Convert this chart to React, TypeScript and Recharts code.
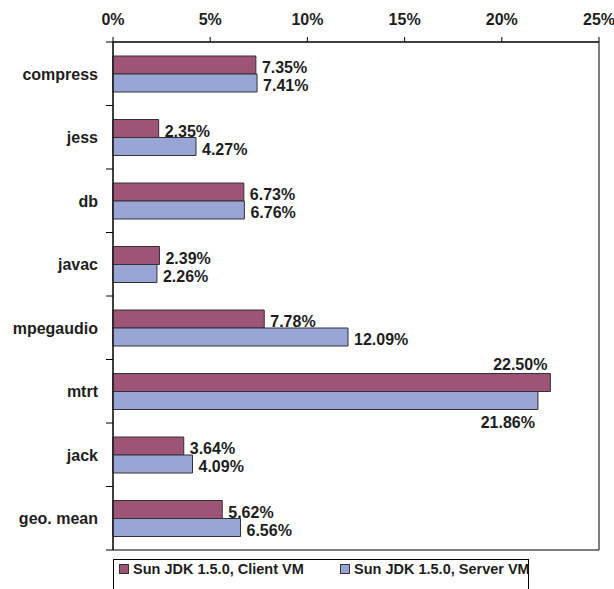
import React from "react";
import {
  Bar,
  BarChart,
  LabelList,
  ReferenceArea,
  XAxis,
  YAxis,
} from "recharts";

const benchmarks = ["compress", "jess", "db", "javac", "mpegaudio", "mtrt", "jack", "geo. mean"];
const clientVm = [7.35, 2.35, 6.73, 2.39, 7.78, 22.5, 3.64, 5.62];
const serverVm = [7.41, 4.27, 6.76, 2.26, 12.09, 21.86, 4.09, 6.56];
const percentTicks = [0, 5, 10, 15, 20, 25];
const seriesNames = ["Sun JDK 1.5.0, Client VM", "Sun JDK 1.5.0, Server VM"];

const CLIENT = "#9e5477";
const SERVER = "#99a5d4";
const EDGE = "#333";
const INK = "#1e1e1e";
const FONT = "'Liberation Sans', Arial, sans-serif";
const LABEL_GAP = 15;

const rows = benchmarks.map((name, i) => ({ name, client: clientVm[i], server: serverVm[i] }));

// labels sit right of the bar; the long mtrt bars get theirs above / below instead
const makeLabel = (above: boolean) => (props: any) => {
  const { x, y, width, height, value } = props;
  const end = x + width;
  const text = `${Number(value).toFixed(2)}%`;
  const common = { fontFamily: FONT, fontSize: 16, fontWeight: 700, fill: INK };
  if (value > 20) {
    return (
      <text {...common} x={end - 3} y={above ? y - 4 : y + height + 18} textAnchor="end">
        {text}
      </text>
    );
  }
  return (
    <text {...common} x={end + 6} y={y + height / 2 + 8} textAnchor="start">
      {text}
    </text>
  );
};

// category tick: label plus Excel-style tick marks on the band boundaries
const CategoryTick = (props: any) => {
  const { x, y, payload, index, visibleTicksCount } = props;
  const axisX = Number(x) + LABEL_GAP;
  const half = Number(payload?.offset) || 31.75;
  const cy = Number(y);
  return (
    <g>
      <path d={`M${axisX - 7},${cy - half}H${axisX}`} stroke="#000" strokeWidth={1} fill="none" />
      {index === visibleTicksCount - 1 && (
        <path d={`M${axisX - 7},${cy + half}H${axisX}`} stroke="#000" strokeWidth={1} fill="none" />
      )}
      <text x={x} y={cy} dy={6} textAnchor="end" fontFamily={FONT} fontSize={16} fontWeight={700} fill={INK}>
        {payload.value}
      </text>
    </g>
  );
};

export default function App() {
  return (
    <div style={{ position: "relative", width: 614, height: 589, overflow: "hidden", background: "#fff" }}>
      <style>{`body { margin: 0; }`}</style>
      <BarChart
        width={614}
        height={589}
        data={rows}
        layout="vertical"
        margin={{ top: 0, right: 15, bottom: 39, left: 0 }}
        barGap={0}
      >
        <XAxis
          type="number"
          orientation="top"
          domain={[0, 25]}
          ticks={percentTicks}
          tickFormatter={(v) => `${v}%`}
          height={42}
          tickSize={5}
          tickMargin={12}
          axisLine={{ stroke: "#000" }}
          tickLine={{ stroke: "#000" }}
          tick={{ fontFamily: FONT, fontSize: 16, fontWeight: 700, fill: INK }}
          interval={0}
        />
        <YAxis
          type="category"
          dataKey="name"
          width={113}
          tickLine={false}
          tickSize={0}
          tickMargin={LABEL_GAP}
          axisLine={{ stroke: "#000" }}
          tick={(p: any) => <CategoryTick {...p} />}
          interval={0}
        />
        <ReferenceArea x1={0} x2={25} fill="none" stroke="#000" strokeWidth={1} ifOverflow="visible" />
        <Bar dataKey="client" fill={CLIENT} stroke={EDGE} strokeWidth={1} barSize={18} isAnimationActive={false}>
          <LabelList dataKey="client" content={makeLabel(true)} />
        </Bar>
        <Bar dataKey="server" fill={SERVER} stroke={EDGE} strokeWidth={1} barSize={18} isAnimationActive={false}>
          <LabelList dataKey="server" content={makeLabel(false)} />
        </Bar>
      </BarChart>
      <div
        style={{
          position: "absolute",
          left: 113,
          top: 559,
          width: 416,
          height: 40,
          border: "1px solid #000",
          boxSizing: "border-box",
          fontFamily: FONT,
          fontSize: 14.5,
          fontWeight: 700,
          color: INK,
        }}
      >
        {seriesNames.map((name, i) => (
          <div
            key={name}
            style={{ position: "absolute", left: i === 0 ? 5 : 226, top: 1, display: "flex", alignItems: "center", whiteSpace: "nowrap" }}
          >
            <span
              style={{
                display: "inline-block",
                width: 8,
                height: 8,
                background: i === 0 ? CLIENT : SERVER,
                border: `1px solid ${EDGE}`,
                marginRight: 4,
              }}
            />
            {name}
          </div>
        ))}
      </div>
    </div>
  );
}
